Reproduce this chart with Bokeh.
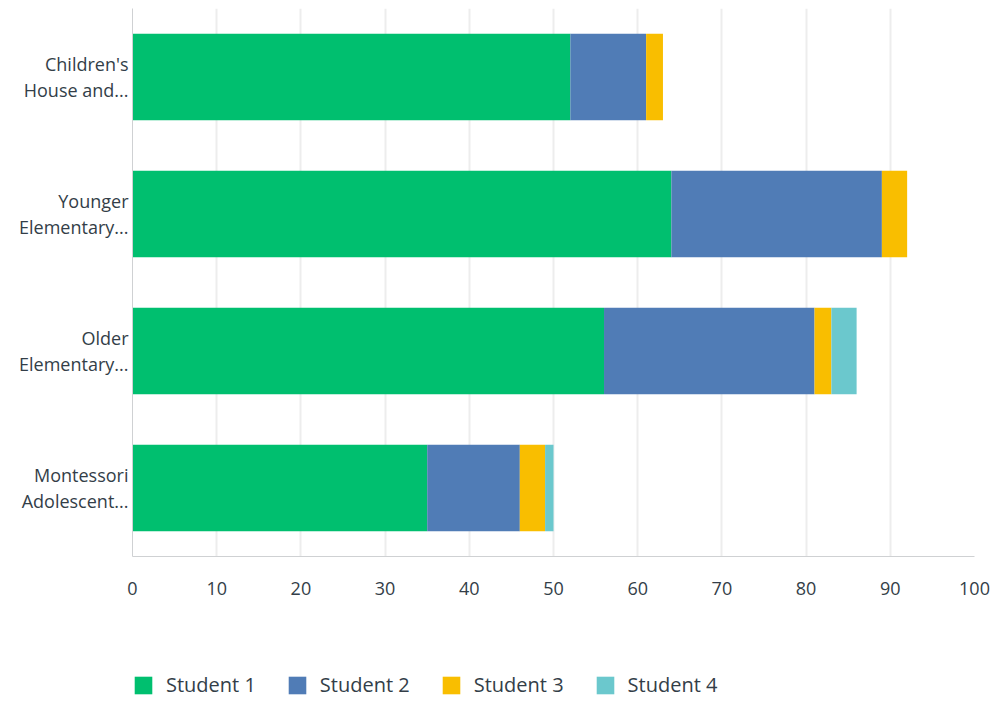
from bokeh.plotting import figure
from bokeh.models import FactorRange, Legend, LegendItem, FixedTicker, ColumnDataSource, Range1d
from bokeh.layouts import column
from bokeh.embed import file_html
from bokeh.resources import INLINE

categories = ["Children's\nHouse and...", "Younger\nElementary...", "Older\nElementary...", "Montessori\nAdolescent..."]
series = ["Student 1", "Student 2", "Student 3", "Student 4"]
student1 = [52, 64, 56, 35]
student2 = [9, 25, 25, 11]
student3 = [2, 3, 2, 3]
student4 = [0, 0, 3, 1]
colors = ["#00BF6F", "#507CB6", "#F9BE00", "#6BC8CD"]
x_ticks = [0, 10, 20, 30, 40, 50, 60, 70, 80, 90, 100]

FONT = "Open Sans"
TEXT = "#333e48"

p = figure(frame_width=842, frame_height=548, output_backend="svg", toolbar_location=None,
           y_range=FactorRange(*categories[::-1], range_padding=0),
           x_range=(0, 100),
           min_border_left=132, min_border_right=16, min_border_top=8, min_border_bottom=60)
p.outline_line_color = None

data = dict(cat=categories, s1=student1, s2=student2, s3=student3, s4=student4)
src = ColumnDataSource(data)
renderers = p.hbar_stack(["s1", "s2", "s3", "s4"], y="cat", height=0.63, color=colors,
                         source=src, line_color=None)

p.ygrid.grid_line_color = None
p.xgrid.grid_line_color = "#ededed"
p.xgrid.grid_line_width = 2
p.xgrid.ticker = FixedTicker(ticks=x_ticks)

xa = p.xaxis[0]
xa.ticker = FixedTicker(ticks=x_ticks)
xa.axis_line_color = "#cfd1d3"
xa.axis_line_width = 1
xa.major_tick_line_color = None
xa.minor_tick_line_color = None
xa.major_tick_out = 0
xa.minor_tick_out = 0
xa.major_label_standoff = 25
xa.major_label_text_font = FONT
xa.major_label_text_font_size = "18px"
xa.major_label_text_color = TEXT

ya = p.yaxis[0]
ya.axis_line_color = "#cfd1d3"
ya.major_tick_line_color = None
ya.minor_tick_line_color = None
ya.major_tick_out = 0
ya.minor_tick_out = 0
ya.major_label_standoff = 4
ya.major_label_text_font = FONT
ya.major_label_text_font_size = "18px"
ya.major_label_text_color = TEXT
ya.major_label_text_line_height = 1.1

# legend strip below the chart (its swatches come from off-screen, zero-length bars)
leg = figure(width=990, height=86, output_backend="svg", toolbar_location=None,
             x_range=Range1d(0, 1), y_range=Range1d(0, 1),
             x_axis_type=None, y_axis_type=None,
             min_border_left=132, min_border_right=16, min_border_top=0, min_border_bottom=0)
leg.outline_line_color = None
leg.xgrid.visible = False
leg.ygrid.visible = False
leg_renderers = [leg.hbar(y=[-5], left=[0], right=[0], height=0.63, color=c, line_color=None)
                 for c in colors]

items = [LegendItem(label=s, renderers=[r]) for s, r in zip(series, leg_renderers)]
legend = Legend(items=items, orientation="horizontal", location=(0, 4),
                glyph_width=22, glyph_height=22, label_standoff=12, spacing=30,
                padding=0, margin=0, border_line_color=None, background_fill_alpha=0,
                label_text_font=FONT, label_text_font_size="20px", label_text_color=TEXT)
leg.add_layout(legend, "center")

layout = column(p, leg, spacing=0)
open("out.html", "w").write(file_html(layout, INLINE))
